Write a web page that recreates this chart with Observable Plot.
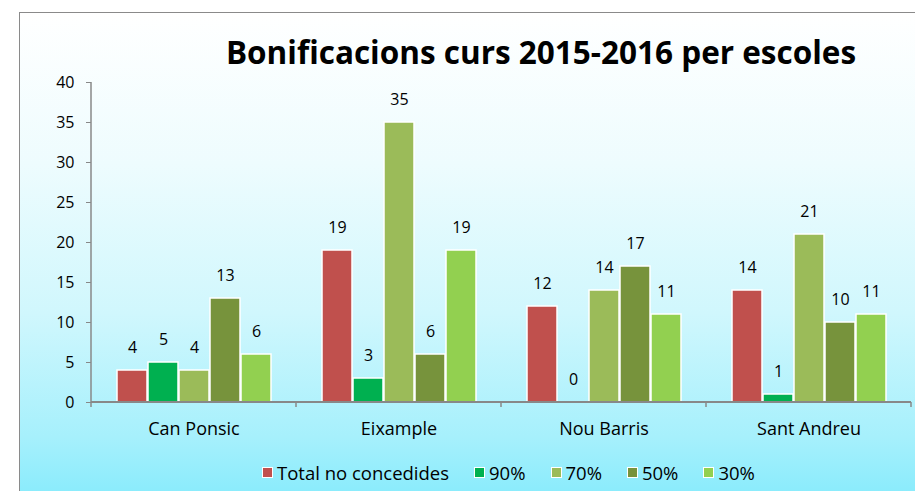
<!DOCTYPE html>
<html>
<head>
<meta charset="utf-8">
<script src="https://cdn.jsdelivr.net/npm/d3@7"></script>
<script src="https://cdn.jsdelivr.net/npm/@observablehq/plot@0.6"></script>
<style>
  html, body { margin: 0; padding: 0; background: #fff; }
  #wrap { position: relative; width: 915px; height: 491px; overflow: hidden; font-family: "Open Sans", "Noto Sans", sans-serif; }
  #box { position: absolute; left: 19px; top: 12px; width: 1000px; height: 500px; border: 1px solid #8a8a8a;
    background: linear-gradient(to bottom, #ffffff 0%, #eefcfe 30%, #d0f7fd 60%, #a6f0fc 85%, #80eafc 100%); }
  #title { position: absolute; top: 31px; left: 0; width: 1082px; text-align: center; font-weight: 700; font-size: 31.5px; line-height: 1.362; color: #000; white-space: nowrap; }
  #chart { position: absolute; left: 0; top: 0; }
  #legend { position: absolute; top: 460px; left: 262px; display: flex; align-items: center; font-size: 18.5px; line-height: 1.362; color: #000; white-space: nowrap; }
  .item { display: flex; align-items: center; margin-right: 25px; }
  .sw { width: 9px; height: 9px; border: 1.5px solid #fff; margin-right: 4px; }
  [aria-label^="y-axis"] line, [aria-label^="y-axis"] path { stroke: #888; }
</style>
</head>
<body>
<div id="wrap">
  <div id="box"></div>
  <div id="title">Bonificacions curs 2015-2016 per escoles</div>
  <div id="chart"></div>
  <div id="legend"></div>
</div>
<script>
const schools = ["Can Ponsic", "Eixample", "Nou Barris", "Sant Andreu"];
const seriesNames = ["Total no concedides", "90%", "70%", "50%", "30%"];
const totalNo = [4, 19, 12, 14];
const p90 = [5, 3, 0, 1];
const p70 = [4, 35, 14, 21];
const p50 = [13, 6, 17, 10];
const p30 = [6, 19, 11, 11];
const colors = ["#C0504D", "#00B050", "#9BBB59", "#77933C", "#92D050"];
const yTicks = [0, 5, 10, 15, 20, 25, 30, 35, 40];

const seriesValues = [totalNo, p90, p70, p50, p30];
const data = [];
schools.forEach((s, i) => {
  seriesNames.forEach((n, j) => data.push({school: s, series: n, value: seriesValues[j][i]}));
});

const plot = Plot.plot({
  width: 915,
  height: 450,
  marginTop: 82,
  marginBottom: 48,
  marginLeft: 90,
  marginRight: 3,
  style: {background: "transparent", fontFamily: "'Open Sans', 'Noto Sans', sans-serif", fontSize: "16px", color: "#000", overflow: "visible"},
  facet: {data, x: "school"},
  fx: {domain: schools, padding: 0, label: null, tickSize: 0, tickPadding: 20},
  x: {domain: seriesNames, axis: null, padding: 0.04, insetLeft: 22, insetRight: 22},
  y: {domain: [0, 40], ticks: yTicks, tickSize: 5, tickPadding: 12, label: null},
  color: {domain: seriesNames, range: colors},
  marks: [
    Plot.barY(data, {x: "series", y: "value", fill: "series", stroke: "white", strokeWidth: 1.5}),
    Plot.text(data, {x: "series", y: "value", text: d => String(d.value), dy: -23, fill: "#000", fontSize: 16})
  ]
});
document.getElementById("chart").appendChild(plot);

// x labels slightly larger than the y labels
d3.select(plot).selectAll('[aria-label^="fx-axis"] text').style("font-size", "18px");

// axis lines drawn from the library's scales
const fx = plot.scale("fx"), y = plot.scale("y");
const svg = d3.select(plot);
const g = svg.append("g").attr("stroke", "#888").attr("fill", "none");
const y0 = y.apply(0), yTop = y.apply(40);
const left = fx.apply(schools[0]);
g.append("line").attr("x1", left).attr("x2", left).attr("y1", yTop).attr("y2", y0 + 5).attr("stroke-width", 1.5);
g.append("line").attr("x1", left).attr("x2", fx.apply(schools[schools.length - 1]) + fx.bandwidth)
  .attr("y1", y0).attr("y2", y0).attr("stroke-width", 2);
schools.forEach(s => {
  const xr = fx.apply(s) + fx.bandwidth;
  g.append("line").attr("x1", xr).attr("x2", xr).attr("y1", y0).attr("y2", y0 + 5).attr("stroke-width", 1.5);
});

const legend = document.getElementById("legend");
seriesNames.forEach((n, i) => {
  const it = document.createElement("div");
  it.className = "item";
  const sw = document.createElement("div");
  sw.className = "sw";
  sw.style.background = colors[i];
  const t = document.createElement("span");
  t.textContent = n;
  it.appendChild(sw); it.appendChild(t);
  legend.appendChild(it);
});
</script>
</body>
</html>
